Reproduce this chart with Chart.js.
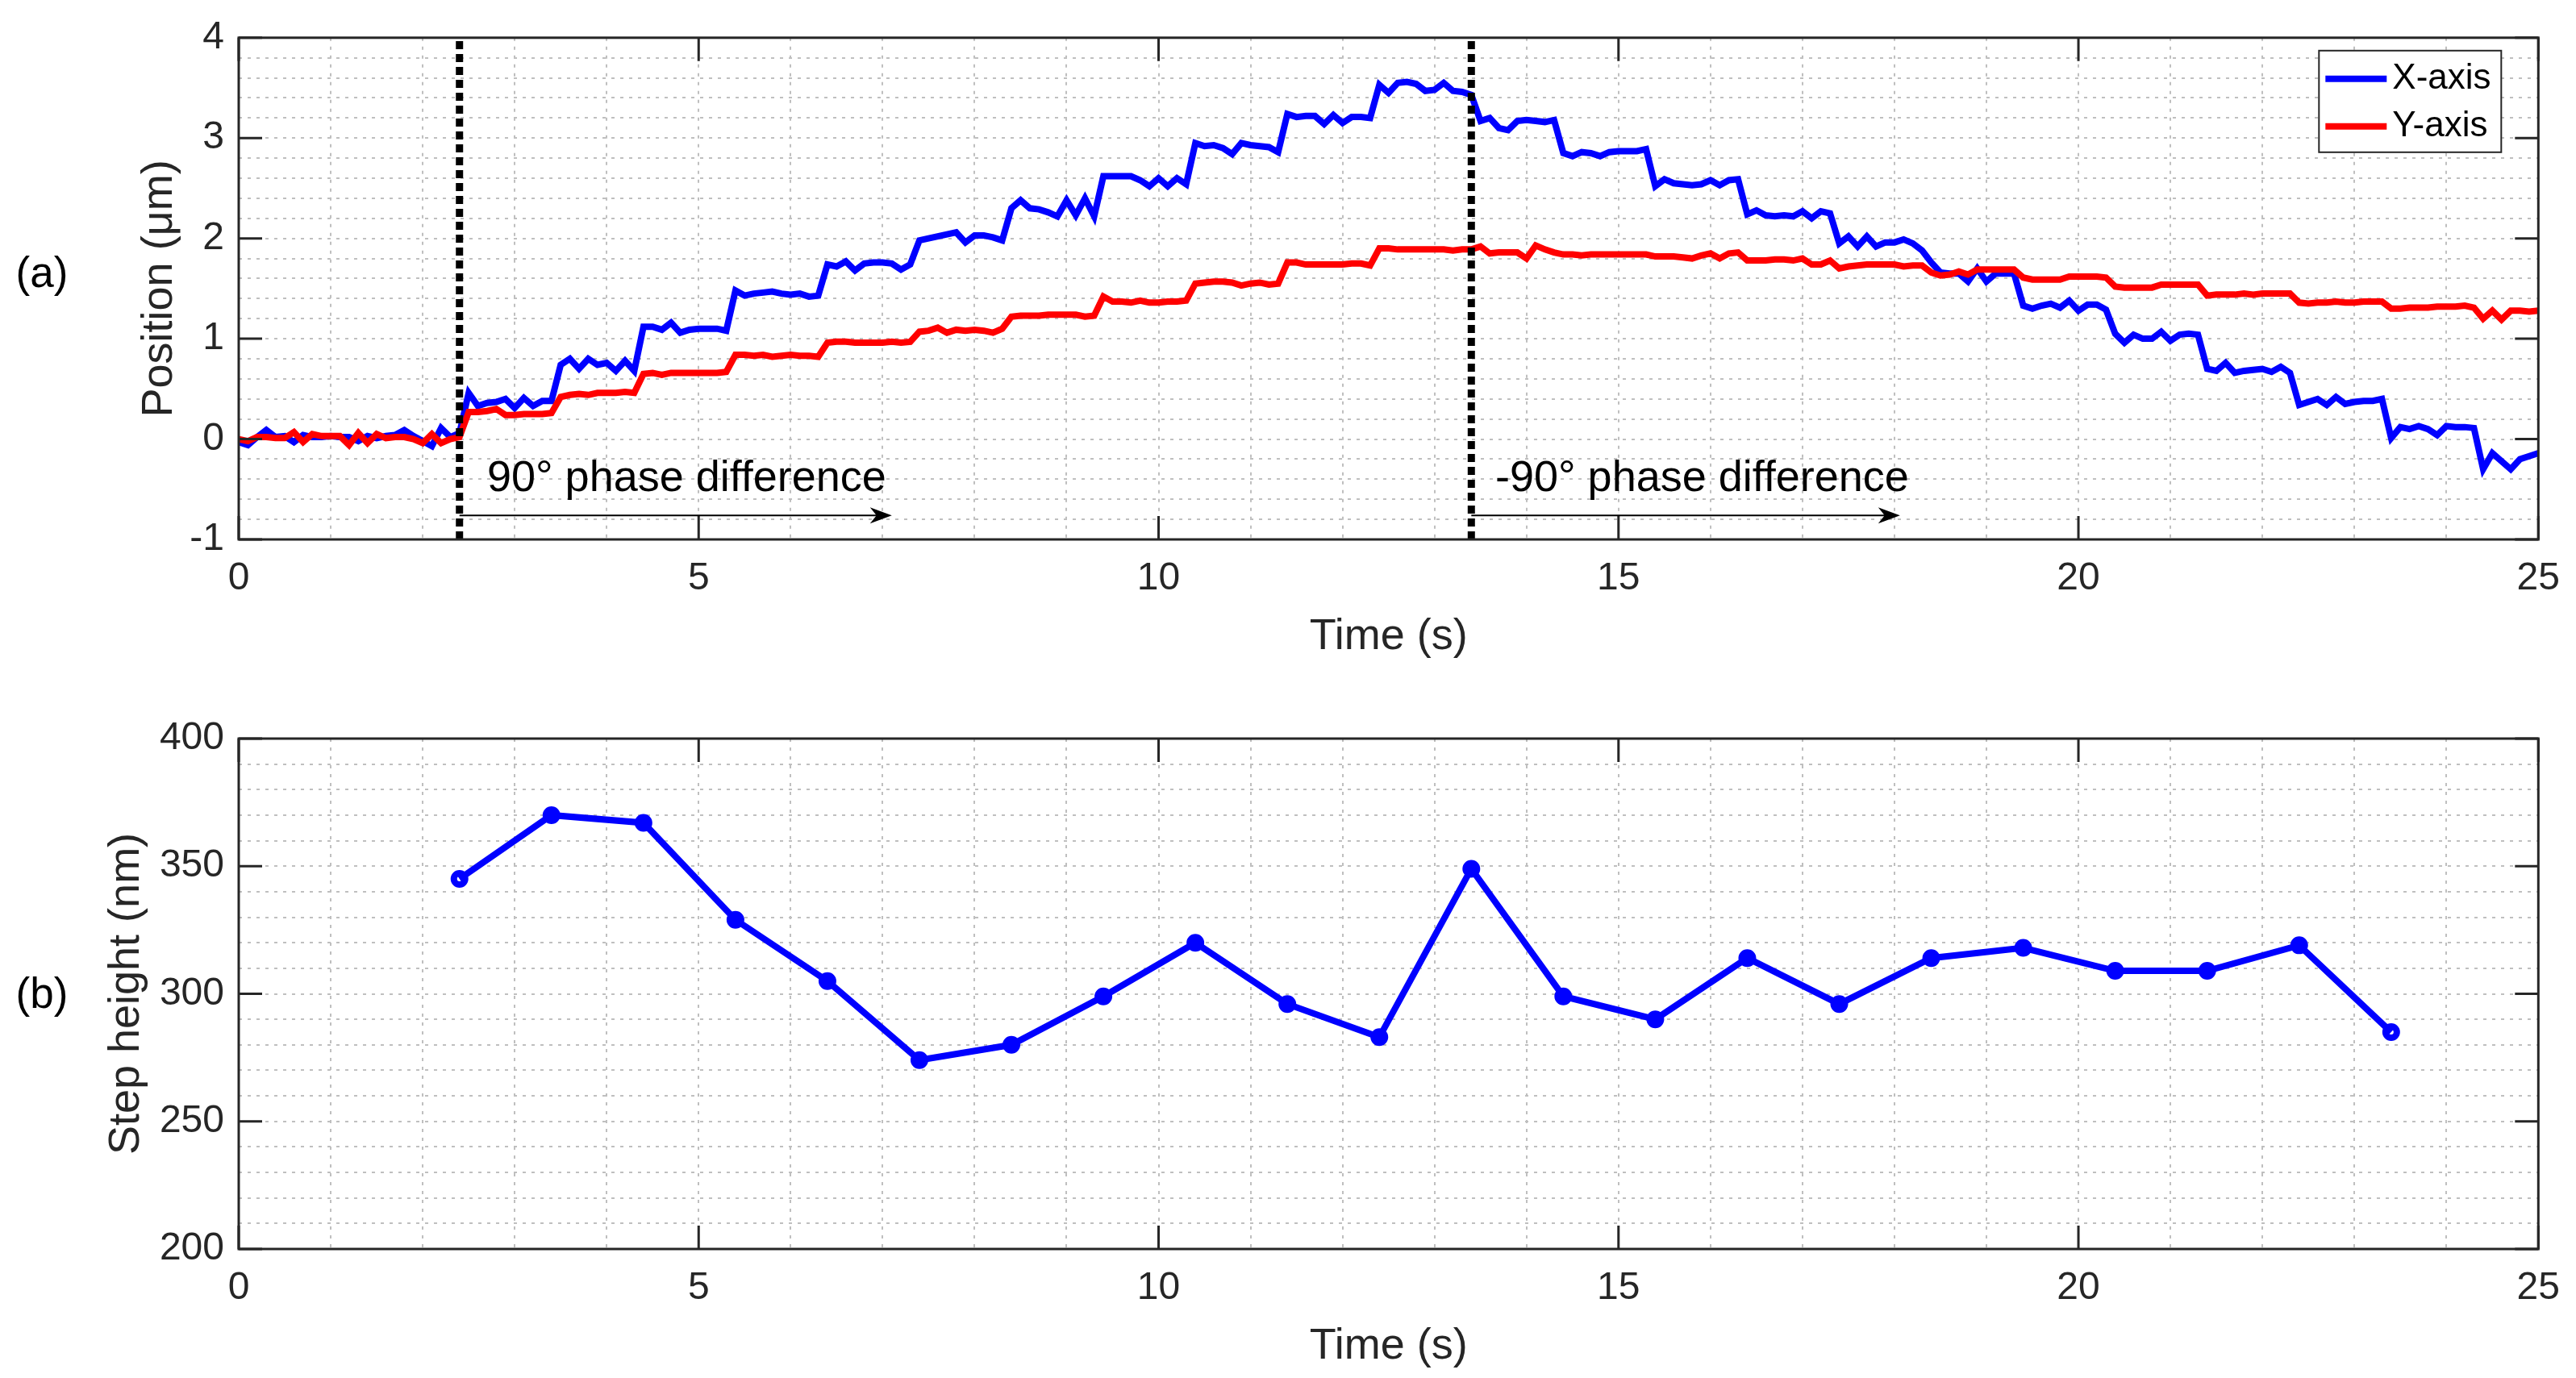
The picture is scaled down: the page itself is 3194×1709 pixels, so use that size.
<!DOCTYPE html>
<html>
<head>
<meta charset="utf-8">
<script src="https://cdn.jsdelivr.net/npm/chart.js@4.4.1/dist/chart.umd.min.js"></script>
<style>
  html, body { margin: 0; padding: 0; background: #fff; }
  #wrap { position: relative; width: 3194px; height: 1709px; }
  canvas { position: absolute; left: 0; }
  #chartTop { top: 0; }
  #chartBottom { top: 855px; }
</style>
</head>
<body>
<div id="wrap">
  <canvas id="chartTop" width="3194" height="855"></canvas>
  <canvas id="chartBottom" width="3194" height="854"></canvas>
</div>
<script>
// (a) position traces, one sample every 0.1 s from 0 to 25 s
const SAMPLE_DT = 0.1;

const xAxisPos = [
  -0.03, -0.06, 0.02, 0.09, 0.02, 0.03, -0.03, 0.04, 0.02, 0.02,
  0.03, 0.02, 0.02, -0.02, 0.03, 0.01, 0.03, 0.04, 0.09, 0.03,
  -0.02, -0.07, 0.11, 0.02, 0.06,
  0.46, 0.33, 0.36, 0.37, 0.40, 0.31, 0.41, 0.33, 0.38, 0.38,
  0.74, 0.80, 0.70, 0.80, 0.74, 0.76, 0.68, 0.78, 0.68, 1.12,
  1.12, 1.09, 1.16, 1.06, 1.09, 1.10, 1.10, 1.10, 1.08, 1.48,
  1.43, 1.45, 1.46, 1.47, 1.45, 1.44, 1.45, 1.42, 1.43, 1.74,
  1.72, 1.77, 1.68, 1.75, 1.76, 1.76, 1.75, 1.69, 1.74, 1.98,
  2.00, 2.02, 2.04, 2.06, 1.96, 2.03, 2.03, 2.01, 1.98, 2.30,
  2.38, 2.30, 2.29, 2.26, 2.22, 2.38, 2.23, 2.40, 2.22, 2.62,
  2.62, 2.62, 2.62, 2.58, 2.52, 2.60, 2.52, 2.60, 2.54, 2.95,
  2.92, 2.93, 2.90, 2.84, 2.95, 2.93, 2.92, 2.91, 2.86, 3.24,
  3.21, 3.22, 3.22, 3.14, 3.23, 3.15, 3.21, 3.21, 3.20, 3.53,
  3.45, 3.55, 3.56, 3.54, 3.47, 3.48, 3.55, 3.47, 3.46, 3.43,
  3.17, 3.20, 3.10, 3.08, 3.17, 3.18, 3.17, 3.16, 3.18, 2.85,
  2.82, 2.86, 2.85, 2.82, 2.86, 2.87, 2.87, 2.87, 2.89, 2.52,
  2.59, 2.55, 2.54, 2.53, 2.54, 2.58, 2.53, 2.58, 2.59, 2.24,
  2.28, 2.23, 2.22, 2.23, 2.22, 2.27, 2.20, 2.27, 2.25, 1.95,
  2.02, 1.92, 2.02, 1.92, 1.96, 1.96, 1.99, 1.95, 1.88, 1.76,
  1.66, 1.65, 1.65, 1.57, 1.70, 1.57, 1.65, 1.65, 1.65, 1.33,
  1.30, 1.33, 1.35, 1.31, 1.38, 1.28, 1.34, 1.34, 1.29, 1.05,
  0.96, 1.04, 1.00, 1.00, 1.07, 0.98, 1.04, 1.05, 1.04, 0.70,
  0.68, 0.76, 0.66, 0.68, 0.69, 0.70, 0.67, 0.72, 0.66, 0.34,
  0.37, 0.40, 0.34, 0.42, 0.35, 0.37, 0.38, 0.38, 0.40, 0.01,
  0.12, 0.10, 0.13, 0.10, 0.04, 0.13, 0.12, 0.12, 0.11, -0.30,
  -0.14, -0.22, -0.30, -0.20, -0.17, -0.14
];

const yAxisPos = [
  0.00, -0.02, 0.02, 0.02, 0.01, 0.01, 0.07, -0.03, 0.05, 0.03,
  0.03, 0.03, -0.06, 0.06, -0.04, 0.05, 0.01, 0.02, 0.02, 0.00,
  -0.04, 0.05, -0.04, 0.00, 0.02,
  0.27, 0.27, 0.28, 0.30, 0.24, 0.24, 0.25, 0.25, 0.25, 0.26,
  0.42, 0.44, 0.45, 0.44, 0.46, 0.46, 0.46, 0.47, 0.46, 0.65,
  0.66, 0.64, 0.66, 0.66, 0.66, 0.66, 0.66, 0.66, 0.67, 0.84,
  0.84, 0.83, 0.84, 0.82, 0.83, 0.84, 0.83, 0.83, 0.82, 0.96,
  0.97, 0.97, 0.96, 0.96, 0.96, 0.96, 0.97, 0.96, 0.97, 1.07,
  1.08, 1.11, 1.06, 1.09, 1.08, 1.09, 1.08, 1.06, 1.10, 1.22,
  1.23, 1.23, 1.23, 1.24, 1.24, 1.24, 1.24, 1.22, 1.23, 1.42,
  1.37, 1.37, 1.36, 1.38, 1.36, 1.36, 1.37, 1.37, 1.38, 1.55,
  1.56, 1.57, 1.57, 1.56, 1.53, 1.55, 1.56, 1.54, 1.55, 1.76,
  1.76, 1.74, 1.74, 1.74, 1.74, 1.74, 1.75, 1.75, 1.73, 1.90,
  1.90, 1.89, 1.89, 1.89, 1.89, 1.89, 1.89, 1.88, 1.89, 1.89,
  1.92, 1.85, 1.86, 1.86, 1.86, 1.80, 1.93, 1.89, 1.86, 1.84,
  1.84, 1.83, 1.84, 1.84, 1.84, 1.84, 1.84, 1.84, 1.84, 1.82,
  1.82, 1.82, 1.81, 1.80, 1.83, 1.85, 1.80, 1.85, 1.86, 1.78,
  1.78, 1.78, 1.79, 1.79, 1.78, 1.80, 1.74, 1.74, 1.78, 1.70,
  1.72, 1.73, 1.74, 1.74, 1.74, 1.74, 1.72, 1.73, 1.73, 1.66,
  1.63, 1.64, 1.67, 1.64, 1.69, 1.69, 1.69, 1.69, 1.69, 1.61,
  1.59, 1.59, 1.59, 1.59, 1.62, 1.62, 1.62, 1.62, 1.61, 1.52,
  1.51, 1.51, 1.51, 1.51, 1.54, 1.54, 1.54, 1.54, 1.54, 1.43,
  1.44, 1.44, 1.44, 1.45, 1.44, 1.45, 1.45, 1.45, 1.45, 1.36,
  1.35, 1.36, 1.36, 1.37, 1.36, 1.36, 1.37, 1.37, 1.37, 1.30,
  1.30, 1.31, 1.31, 1.31, 1.32, 1.32, 1.32, 1.33, 1.31, 1.20,
  1.28, 1.19, 1.28, 1.28, 1.27, 1.28
];

// (b) step heights
const stepTimes = [2.4, 3.4, 4.4, 5.4, 6.4, 7.4, 8.4, 9.4, 10.4, 11.4, 12.4,
  13.4, 14.4, 15.4, 16.4, 17.4, 18.4, 19.4, 20.4, 21.4, 22.4, 23.4];
const stepHeights = [345, 370, 367, 329, 305, 274, 280, 299, 320, 296, 283,
  349, 299, 290, 314, 296, 314, 318, 309, 309, 319, 285];

// annotations on (a), in data units
const phaseMarks = [2.4, 13.4];
const phaseLabels = ["90° phase difference", "-90° phase difference"];
const labelStarts = [2.7, 13.66];
const arrowEnds = [7.1, 18.06];
const LABEL_Y = -0.52;
const ARROW_Y = -0.76;

const FONT = "'Liberation Sans', Arial, Helvetica, sans-serif";
const INK = "#262626";
Chart.defaults.font.family = FONT;
Chart.defaults.color = INK;

function toPoints(values) {
  return values.map((v, i) => ({ x: Math.round(i * SAMPLE_DT * 10) / 10, y: v }));
}

function isMajor(v, every) {
  const r = v / every;
  return Math.abs(r - Math.round(r)) < 1e-6;
}

// box + inward major ticks on all four sides, like the matlab axes
const framePlugin = {
  id: "frame",
  afterDatasetsDraw(chart) {
    const { ctx, chartArea: a, scales } = chart;
    const len = 29;
    ctx.save();
    ctx.strokeStyle = INK;
    ctx.lineWidth = 3;
    ctx.beginPath();
    scales.x.ticks.forEach(t => {
      if (t.label === "") return;
      const px = scales.x.getPixelForValue(t.value);
      ctx.moveTo(px, a.bottom); ctx.lineTo(px, a.bottom - len);
      ctx.moveTo(px, a.top); ctx.lineTo(px, a.top + len);
    });
    scales.y.ticks.forEach(t => {
      if (t.label === "") return;
      const py = scales.y.getPixelForValue(t.value);
      ctx.moveTo(a.left, py); ctx.lineTo(a.left + len, py);
      ctx.moveTo(a.right, py); ctx.lineTo(a.right - len, py);
    });
    ctx.stroke();
    ctx.strokeRect(a.left, a.top, a.right - a.left, a.bottom - a.top);
    ctx.restore();
  }
};

function panelLetter(text, shift) {
  return {
    id: "panelLetter",
    afterDraw(chart) {
      const { ctx, chartArea: a } = chart;
      ctx.save();
      ctx.font = "53px " + FONT;
      ctx.fillStyle = "#000";
      ctx.textAlign = "center";
      ctx.textBaseline = "middle";
      ctx.fillText(text, 52, (a.top + a.bottom) / 2 + shift);
      ctx.restore();
    }
  };
}

const phasePlugin = {
  id: "phase",
  afterDatasetsDraw(chart) {
    const { ctx, scales: { x, y } } = chart;
    const ya = y.getPixelForValue(ARROW_Y);
    ctx.save();
    ctx.fillStyle = "#000";
    ctx.strokeStyle = "#000";
    phaseMarks.forEach((t0, i) => {
      const x0 = x.getPixelForValue(t0);
      const x1 = x.getPixelForValue(arrowEnds[i]);
      ctx.lineWidth = 2;
      ctx.beginPath();
      ctx.moveTo(x0, ya);
      ctx.lineTo(x1 - 16, ya);
      ctx.stroke();
      ctx.beginPath();
      ctx.moveTo(x1, ya);
      ctx.lineTo(x1 - 27, ya - 10);
      ctx.lineTo(x1 - 19, ya);
      ctx.lineTo(x1 - 27, ya + 10);
      ctx.closePath();
      ctx.fill();
      ctx.font = "54px " + FONT;
      ctx.textBaseline = "alphabetic";
      ctx.fillText(phaseLabels[i], x.getPixelForValue(labelStarts[i]), y.getPixelForValue(LABEL_Y));
    });
    ctx.restore();
  }
};

const boxLegend = {
  id: "boxLegend",
  afterDraw(chart) {
    const { ctx, chartArea: a } = chart;
    const items = chart.data.datasets.filter(d => d.label);
    const w = 226, h = 126, rowH = 59;
    const left = a.right - 46 - w, top = a.top + 16;
    ctx.save();
    ctx.fillStyle = "#fff";
    ctx.fillRect(left, top, w, h);
    ctx.strokeStyle = INK;
    ctx.lineWidth = 2;
    ctx.strokeRect(left, top, w, h);
    ctx.font = "44px " + FONT;
    ctx.textBaseline = "middle";
    items.forEach((d, i) => {
      const cy = top + 35 + i * rowH;
      ctx.strokeStyle = d.borderColor;
      ctx.lineWidth = 8;
      ctx.beginPath();
      ctx.moveTo(left + 8, cy);
      ctx.lineTo(left + 84, cy);
      ctx.stroke();
      ctx.fillStyle = "#000";
      ctx.fillText(d.label, left + 91, cy);
    });
    ctx.restore();
  }
};

function xScale(height, titlePadBottom) {
  return {
    type: "linear", min: 0, max: 25,
    afterFit(scale) { scale.height = height; },
    ticks: {
      stepSize: 1, autoSkip: false, maxRotation: 0, padding: 20,
      font: { size: 48 },
      callback: v => (isMajor(v, 5) ? String(v) : "")
    },
    grid: { color: "#bfbfbf", lineWidth: 2, drawTicks: false },
    border: { display: false, dash: [4, 7] },
    title: { display: true, text: "Time (s)", font: { size: 54 }, color: INK,
      padding: { top: 0, bottom: titlePadBottom } }
  };
}

function yScale(min, max, step, major, title, titlePadTop) {
  return {
    type: "linear", min: min, max: max,
    afterFit(scale) { scale.width = 296; },
    ticks: {
      stepSize: step, autoSkip: false, padding: 18,
      font: { size: 48 },
      callback: v => (isMajor(v, major) ? String(Math.round(v)) : "")
    },
    grid: { color: "#bfbfbf", lineWidth: 2, drawTicks: false },
    border: { display: false, dash: [4, 7] },
    title: { display: true, text: title, font: { size: 54 }, color: INK,
      padding: { top: titlePadTop, bottom: 0 } }
  };
}

const quiet = { legend: { display: false }, tooltip: { enabled: false } };

const phaseLines = phaseMarks.map(t => ({
  label: "",
  data: [{ x: t, y: -1 }, { x: t, y: 4 }],
  borderColor: "#000",
  borderWidth: 9,
  borderDash: [10, 6],
  pointRadius: 0,
  order: 0
}));

new Chart(document.getElementById("chartTop"), {
  type: "line",
  data: {
    datasets: [
      { label: "X-axis", data: toPoints(xAxisPos), borderColor: "#0000ff", borderWidth: 8,
        pointRadius: 0, tension: 0, order: 2 },
      { label: "Y-axis", data: toPoints(yAxisPos), borderColor: "#ff0000", borderWidth: 8,
        pointRadius: 0, tension: 0, order: 1 },
      ...phaseLines
    ]
  },
  options: {
    responsive: false,
    animation: false,
    events: [],
    layout: { padding: { top: 36, right: 44, bottom: 0, left: 0 } },
    scales: {
      x: xScale(186, 32.6),
      y: yScale(-1, 4, 0.2, 1, "Position (\u03bcm)", 165.6)
    },
    plugins: quiet
  },
  plugins: [framePlugin, phasePlugin, boxLegend, panelLetter("(a)", -17)]
});

new Chart(document.getElementById("chartBottom"), {
  type: "line",
  data: {
    datasets: [{
      label: "Step height",
      data: stepTimes.map((t, i) => ({ x: t, y: stepHeights[i] })),
      borderColor: "#0000ff",
      borderWidth: 8,
      tension: 0,
      pointStyle: "circle",
      pointRadius: 7,
      pointBorderWidth: 8,
      pointBorderColor: "#0000ff",
      pointBackgroundColor: "rgba(0,0,255,0)"
    }]
  },
  options: {
    responsive: false,
    animation: false,
    events: [],
    layout: { padding: { top: 61, right: 44, bottom: 0, left: 0 } },
    scales: {
      x: xScale(160, 6.6),
      y: yScale(200, 400, 10, 50, "Step height (nm)", 124.6)
    },
    plugins: quiet
  },
  plugins: [framePlugin, panelLetter("(b)", 3)]
});
</script>
</body>
</html>
